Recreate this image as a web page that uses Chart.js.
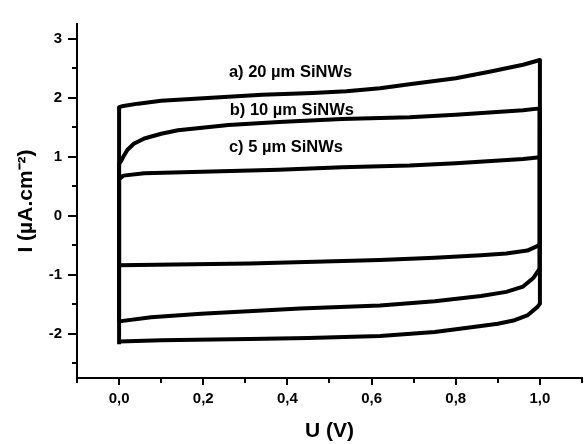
<!DOCTYPE html>
<html>
<head>
<meta charset="utf-8">
<script src="https://cdn.jsdelivr.net/npm/chart.js@4.4.1/dist/chart.umd.min.js"></script>
<style>
html, body { margin: 0; padding: 0; background: #fff; }
</style>
</head>
<body>
<canvas id="chart1" width="584" height="444"></canvas>
<script>
// a) 20 um loop : up the left edge, along the top, down the right edge, back along the bottom
var uA = [0, 0, 0.01, 0.045, 0.10, 0.22, 0.34, 0.46, 0.54, 0.62, 0.69, 0.80, 0.88, 0.96, 1.0, 1.0, 0.995, 0.97, 0.94, 0.90, 0.86, 0.75, 0.62, 0.45, 0.31, 0.10, 0];
var iA = [-2.18, 1.84, 1.86, 1.90, 1.95, 2.00, 2.05, 2.08, 2.11, 2.16, 2.23, 2.33, 2.44, 2.56, 2.64, -1.49, -1.54, -1.69, -1.77, -1.83, -1.87, -1.97, -2.04, -2.07, -2.09, -2.11, -2.13];

// b) 10 um loop
var uB = [0, 0, 0.005, 0.01, 0.02, 0.035, 0.06, 0.10, 0.14, 0.26, 0.38, 0.53, 0.69, 0.80, 0.96, 1.0, 1.0, 0.998, 0.985, 0.96, 0.92, 0.86, 0.75, 0.62, 0.43, 0.195, 0.076, 0];
var iB = [-1.79, 0.88, 0.93, 1.00, 1.12, 1.22, 1.31, 1.39, 1.45, 1.54, 1.59, 1.64, 1.67, 1.71, 1.79, 1.82, -0.84, -0.90, -1.05, -1.20, -1.29, -1.36, -1.45, -1.52, -1.57, -1.66, -1.72, -1.79];

// c) 5 um loop
var uC = [0, 0, 0.01, 0.06, 0.22, 0.38, 0.53, 0.69, 0.80, 0.96, 1.0, 1.0, 0.995, 0.97, 0.92, 0.86, 0.75, 0.62, 0.31, 0];
var iC = [-0.84, 0.62, 0.68, 0.72, 0.75, 0.78, 0.82, 0.85, 0.89, 0.96, 0.99, -0.48, -0.51, -0.59, -0.64, -0.67, -0.71, -0.75, -0.81, -0.84];

var curveLabels = ['a) 20 µm SiNWs', 'b) 10 µm SiNWs', 'c) 5 µm SiNWs'];

var xTicks = [0, 0.2, 0.4, 0.6, 0.8, 1.0];
var xMinor = [-0.1, 0.1, 0.3, 0.5, 0.7, 0.9, 1.1];
var yTicks = [-2, -1, 0, 1, 2, 3];
var yMinor = [-2.5, -1.5, -0.5, 0.5, 1.5, 2.5];

var ctx = document.getElementById('chart1').getContext('2d');
var FONT = '"Liberation Sans", Arial, sans-serif';

function toPoints(us, is) {
	return us.map(function(u, k) { return {x: u, y: is[k]}; });
}

function loopSet(us, is) {
	return {
		data: toPoints(us, is),
		showLine: true,
		borderColor: '#000',
		borderWidth: 4,
		pointRadius: 0,
		tension: 0,
		fill: false,
		borderJoinStyle: 'round'
	};
}

// tick marks (major + minor) and the curve captions
var marks = {
	id: 'marks',
	afterDraw: function(chart) {
		var c = chart.ctx;
		var x = chart.scales.x;
		var y = chart.scales.y;
		c.save();
		c.strokeStyle = '#000';
		c.lineWidth = 2;
		c.beginPath();
		xTicks.forEach(function(v) {
			var p = Math.round(x.getPixelForValue(v));
			c.moveTo(p, x.top); c.lineTo(p, x.top + 7);
		});
		xMinor.forEach(function(v) {
			var p = Math.round(x.getPixelForValue(v));
			c.moveTo(p, x.top); c.lineTo(p, x.top + 5);
		});
		yTicks.forEach(function(v) {
			var p = Math.round(y.getPixelForValue(v));
			c.moveTo(y.right, p); c.lineTo(y.right - 9, p);
		});
		yMinor.forEach(function(v) {
			var p = Math.round(y.getPixelForValue(v));
			c.moveTo(y.right, p); c.lineTo(y.right - 5, p);
		});
		c.stroke();

		var pos = [[0.261, 2.36], [0.263, 1.70], [0.261, 1.08]];
		c.font = 'bold 16.5px ' + FONT;
		c.fillStyle = '#000';
		c.textBaseline = 'alphabetic';
		c.textAlign = 'left';
		curveLabels.forEach(function(t, k) {
			c.fillText(t, x.getPixelForValue(pos[k][0]), y.getPixelForValue(pos[k][1]));
		});
		c.restore();
	}
};

var chart1 = new Chart(ctx, {
	type: 'scatter',
	data: {
		datasets: [loopSet(uA, iA), loopSet(uB, iB), loopSet(uC, iC)]
	},
	options: {
		responsive: false,
		animation: false,
		layout: { padding: { top: 12, right: 2, left: 0, bottom: 0 } },
		plugins: {
			legend: { display: false },
			tooltip: { enabled: false }
		},
		scales: {
			x: {
				type: 'linear',
				min: -0.1,
				max: 1.1,
				afterFit: function(s) { s.height = 66; },
				afterBuildTicks: function(s) { s.ticks = xTicks.map(function(v) { return {value: v}; }); },
				grid: { display: false, drawTicks: false },
				border: { display: true, color: '#000', width: 2 },
				ticks: {
					padding: 12,
					color: '#000',
					font: { family: FONT, size: 15, weight: 'bold' },
					callback: function(v) { return Number(v).toFixed(1).replace('.', ','); }
				},
				title: {
					display: true,
					text: 'U (V)',
					color: '#000',
					padding: { top: 0, bottom: 0 },
					font: { family: FONT, size: 21, weight: 'bold' }
				}
			},
			y: {
				type: 'linear',
				min: -2.75,
				max: 3.25,
				afterFit: function(s) { s.width = 77; },
				afterBuildTicks: function(s) { s.ticks = yTicks.map(function(v) { return {value: v}; }); },
				grid: { display: false, drawTicks: false },
				border: { display: true, color: '#000', width: 2 },
				ticks: {
					padding: 15,
					color: '#000',
					font: { family: FONT, size: 15, weight: 'bold' },
					callback: function(v) { return String(v); }
				},
				title: {
					display: true,
					text: 'I (µA.cm⁻²)',
					color: '#000',
					padding: { top: 14, bottom: 0 },
					font: { family: FONT, size: 21, weight: 'bold' }
				}
			}
		}
	},
	plugins: [marks]
});
</script>
</body>
</html>
